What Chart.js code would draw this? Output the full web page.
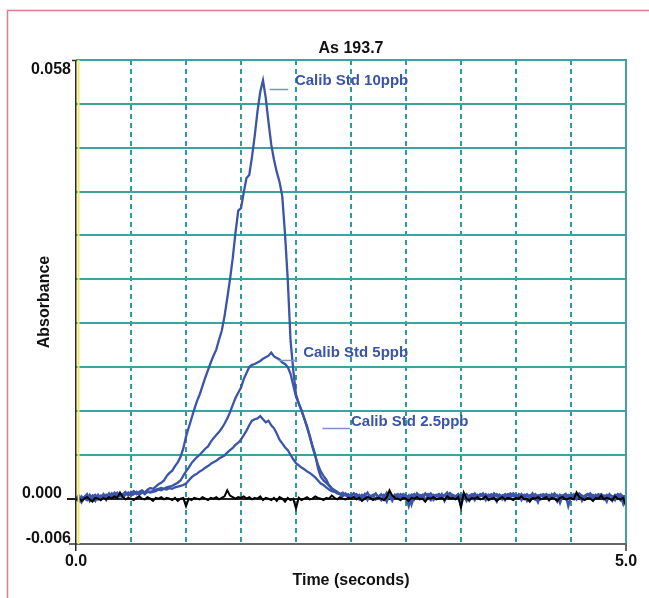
<!DOCTYPE html>
<html><head><meta charset="utf-8">
<script src="https://cdn.jsdelivr.net/npm/chart.js@4.4.0/dist/chart.umd.min.js"></script>
<style>html,body{margin:0;padding:0;background:#fff;}#wrap{position:relative;width:649px;height:598px;}canvas{display:block;}</style>
</head><body><div id="wrap"><canvas id="c" width="649" height="598"></canvas></div>
<script>
const chartTitle = 'As 193.7';
const xAxisTitle = 'Time (seconds)';
const yAxisTitle = 'Absorbance';
const seriesNames = ['Calib Std 10ppb', 'Calib Std 5ppb', 'Calib Std 2.5ppb', 'Blank'];

const times = [
0,0.025,0.05,0.075,0.1,0.125,0.15,0.175,0.2,0.225,
0.25,0.275,0.3,0.325,0.35,0.375,0.4,0.425,0.45,0.475,
0.5,0.525,0.55,0.575,0.6,0.625,0.65,0.675,0.7,0.725,
0.75,0.775,0.8,0.825,0.85,0.875,0.9,0.925,0.95,0.975,
1,1.025,1.05,1.075,1.1,1.125,1.15,1.175,1.2,1.225,
1.25,1.275,1.3,1.325,1.35,1.375,1.4,1.425,1.45,1.475,
1.5,1.525,1.55,1.575,1.6,1.625,1.65,1.675,1.7,1.725,
1.75,1.775,1.8,1.825,1.85,1.875,1.9,1.925,1.95,1.975,
2,2.025,2.05,2.075,2.1,2.125,2.15,2.175,2.2,2.225,
2.25,2.275,2.3,2.325,2.35,2.375,2.4,2.425,2.45,2.475,
2.5,2.525,2.55,2.575,2.6,2.625,2.65,2.675,2.7,2.725,
2.75,2.775,2.8,2.825,2.85,2.875,2.9,2.925,2.95,2.975,
3,3.025,3.05,3.075,3.1,3.125,3.15,3.175,3.2,3.225,
3.25,3.275,3.3,3.325,3.35,3.375,3.4,3.425,3.45,3.475,
3.5,3.525,3.55,3.575,3.6,3.625,3.65,3.675,3.7,3.725,
3.75,3.775,3.8,3.825,3.85,3.875,3.9,3.925,3.95,3.975,
4,4.025,4.05,4.075,4.1,4.125,4.15,4.175,4.2,4.225,
4.25,4.275,4.3,4.325,4.35,4.375,4.4,4.425,4.45,4.475,
4.5,4.525,4.55,4.575,4.6,4.625,4.65,4.675,4.7,4.725,
4.75,4.775,4.8,4.825,4.85,4.875,4.9,4.925,4.95,4.975,
5];

const std10 = [
-.0003,.0002,-.0005,.0001,.0003,-.0002,.0004,.0000,.0005,-.0001,
.0006,.0002,.0007,.0001,.0005,.0008,.0003,.0006,.0009,.0004,
.0007,.0010,.0006,.0009,.0011,.0008,.0012,.0014,.0013,.0016,
.0019,.0021,.0024,.0030,.0034,.0037,.0043,.0048,.0055,.0066,
.0082,.0094,.0106,.0118,.0129,.0138,.0149,.0160,.0170,.0180,
.0189,.0197,.0210,.0222,.0241,.0265,.0290,.0318,.0352,.0381,
.0384,.0405,.0424,.0428,.0452,.0480,.0512,.0538,.0553,.0530,
.0498,.0468,.0448,.0432,.0419,.0400,.0350,.0290,.0210,.0170,
.0138,.0126,.0116,.0106,.0094,.0082,.0068,.0056,.0045,.0036,
.0030,.0025,.0018,.0014,.0011,.0009,.0006,.0004,.0007,.0002,
.0005,.0001,.0006,.0003,-.0002,.0004,.0007,.0002,.0005,-.0001,
.0003,.0006,.0001,.0008,.0004,-.0003,.0005,.0002,.0006,.0003,
-.0001,.0004,-.0008,.0003,.0006,.0002,.0005,-.0002,.0004,.0007,
.0002,.0005,.0001,.0006,-.0003,.0004,.0007,.0003,.0001,.0005,
-.0009,.0003,.0006,.0002,.0004,-.0002,.0005,.0003,.0007,.0001,
.0004,.0006,.0002,-.0004,.0005,.0003,.0006,.0001,.0004,.0007,
.0003,.0005,-.0002,.0004,.0006,.0002,.0005,.0003,-.0005,.0004,
.0006,.0002,.0005,.0001,.0007,.0003,-.0006,.0004,.0002,.0005,
.0003,.0006,.0001,.0005,-.0003,.0004,.0006,.0002,.0005,.0003,
.0001,.0005,.0003,-.0004,.0006,.0002,.0004,.0005,-.0002,.0003,
.0001];

const std5 = [
.0002,-.0004,.0003,.0000,-.0002,.0005,.0001,-.0003,.0004,.0002,
.0000,.0005,.0003,.0007,.0002,.0004,.0006,.0001,.0005,.0008,
.0004,.0006,.0009,.0005,.0008,.0007,.0010,.0009,.0010,.0012,
.0013,.0014,.0013,.0015,.0016,.0017,.0019,.0021,.0024,.0030,
.0036,.0041,.0047,.0051,.0055,.0058,.0062,.0066,.0069,.0075,
.0080,.0084,.0088,.0093,.0099,.0106,.0114,.0124,.0133,.0140,
.0147,.0158,.0166,.0174,.0177,.0178,.0180,.0182,.0185,.0187,
.0189,.0193,.0188,.0186,.0184,.0180,.0178,.0174,.0165,.0150,
.0135,.0126,.0117,.0106,.0096,.0083,.0070,.0058,.0040,.0029,
.0024,.0021,.0017,.0013,.0011,.0008,.0006,.0008,.0004,.0006,
.0002,.0007,.0004,-.0001,.0005,.0003,.0008,.0001,.0004,.0006,
.0002,-.0002,.0005,.0003,.0007,.0001,.0004,.0006,-.0001,.0005,
.0003,-.0010,.0004,.0006,.0001,.0005,.0003,.0007,.0002,-.0002,
.0005,.0003,.0006,.0002,.0004,.0008,.0001,.0005,.0003,.0006,
.0002,.0005,-.0003,.0004,.0006,.0003,.0001,.0006,.0004,-.0002,
.0005,.0002,.0007,.0003,.0005,-.0001,.0004,.0006,.0002,.0005,
.0001,.0006,.0003,.0005,-.0003,.0004,.0002,.0006,.0003,.0005,
.0002,.0004,-.0002,.0006,.0003,.0005,.0001,.0004,.0006,-.0010,
.0004,.0002,.0005,.0007,.0003,.0001,.0006,.0004,-.0002,.0005,
.0003,.0006,.0002,.0005,.0001,-.0003,.0005,.0003,.0006,.0002,
.0004];

const std25 = [
.0001,.0004,-.0002,.0002,.0006,-.0003,.0003,.0005,-.0001,.0004,
.0003,-.0002,.0005,.0004,.0008,.0002,.0006,.0004,.0007,.0005,
.0009,.0006,.0008,.0007,.0010,.0006,.0009,.0008,.0009,.0010,
.0012,.0011,.0013,.0012,.0014,.0013,.0015,.0016,.0017,.0018,
.0020,.0024,.0028,.0031,.0033,.0036,.0038,.0041,.0043,.0046,
.0048,.0050,.0053,.0055,.0057,.0061,.0064,.0067,.0071,.0074,
.0078,.0084,.0090,.0097,.0103,.0105,.0106,.0109,.0105,.0101,
.0103,.0097,.0093,.0086,.0078,.0073,.0068,.0064,.0058,.0052,
.0047,.0044,.0041,.0039,.0036,.0034,.0031,.0028,.0024,.0020,
.0018,.0015,.0012,.0010,.0009,.0007,.0006,.0003,.0006,.0002,
.0004,.0007,.0002,.0005,.0001,.0006,-.0002,.0004,.0003,.0007,
.0001,.0005,.0003,-.0004,.0006,.0002,.0005,.0004,.0001,.0006,
.0004,.0002,.0005,-.0001,.0007,.0003,.0001,.0005,.0006,.0002,
-.0002,.0004,.0006,.0003,.0005,.0001,.0007,.0004,.0002,.0005,
.0003,.0006,.0001,-.0003,.0004,.0007,.0002,.0005,.0003,.0006,
.0002,.0005,.0003,.0006,.0001,.0004,-.0002,.0005,.0007,.0003,
.0005,.0002,.0006,.0001,.0004,.0003,.0007,-.0001,.0004,.0005,
.0002,.0006,.0003,.0005,.0001,-.0004,.0005,.0003,.0006,.0002,
.0005,.0003,-.0001,.0006,.0004,.0002,.0005,.0007,.0001,.0004,
.0006,.0002,.0004,.0001,.0005,.0003,-.0002,.0006,.0004,-.0007,
.0003];

const blank = [
-.0002,.0001,-.0003,.0000,.0002,-.0001,-.0004,.0001,.0000,-.0002,
.0001,-.0001,.0002,.0000,.0003,.0001,.0008,.0002,-.0001,.0001,
.0000,-.0002,.0001,.0003,.0000,-.0001,.0002,.0000,-.0003,.0001,
.0000,.0002,-.0001,.0001,.0000,-.0002,.0001,-.0003,.0000,.0001,
-.0010,.0000,-.0002,.0001,.0000,-.0001,.0002,.0000,-.0002,.0001,
.0000,.0002,-.0001,.0001,.0003,.0011,.0004,.0002,.0000,.0002,
.0001,.0003,.0000,.0002,-.0001,.0001,.0000,.0003,-.0002,.0001,
.0000,-.0002,.0001,-.0003,.0002,.0000,-.0004,.0001,-.0002,.0000,
-.0013,.0001,-.0002,.0000,.0002,-.0001,.0000,.0003,.0001,.0000,
-.0002,.0001,.0000,.0004,.0001,-.0001,.0002,.0000,-.0001,.0001,
.0000,.0002,-.0001,.0001,-.0003,.0000,.0002,.0001,-.0002,.0000,
.0001,.0000,-.0002,.0002,.0011,.0004,.0001,.0000,-.0002,.0001,
.0000,-.0003,.0001,.0000,.0002,-.0001,.0000,-.0004,.0001,.0000,
.0002,-.0001,.0000,.0001,-.0002,.0003,.0000,.0001,-.0001,.0002,
-.0012,.0008,.0000,-.0002,.0001,.0000,.0002,-.0001,.0000,.0003,
-.0002,.0000,.0001,-.0003,.0000,.0002,-.0001,.0001,.0000,-.0002,
.0001,.0000,.0003,-.0001,.0000,-.0004,.0001,.0000,.0002,-.0001,
.0000,.0002,-.0002,.0001,.0000,-.0003,.0001,.0002,-.0001,.0000,
.0001,-.0001,.0008,.0002,.0000,-.0002,.0001,.0000,-.0003,.0001,
.0000,.0004,-.0001,.0001,.0000,-.0002,.0003,.0000,-.0001,.0001,
-.0010];

const xGridTicks = [0, 0.5, 1, 1.5, 2, 2.5, 3, 3.5, 4, 4.5, 5];
const xLabelTicks = [0, 5];
const yGridTicks = [-0.006, 0, 0.0058, 0.0116, 0.0174, 0.0232, 0.029, 0.0348, 0.0406, 0.0464, 0.0522, 0.058];
const yLabelTicks = [-0.006, 0, 0.058];

// ---------- drawing ----------
const BLUE = '#3b55a9';
const TEAL = '#3ea2a2';
const FONT = '"Liberation Sans", Arial, sans-serif';
const labelAnchors = [
  {name: seriesNames[0], tx: 1.99, ty: 0.0552, l0: 1.76, l1: 1.93, lv: 0.0542},
  {name: seriesNames[1], tx: 2.065, ty: 0.0193, l0: 1.84, l1: 2.01, lv: 0.0183},
  {name: seriesNames[2], tx: 2.5, ty: 0.0102, l0: 2.24, l1: 2.49, lv: 0.0093}
];
const toXY = arr => arr.map((v, i) => ({x: times[i], y: v}));

const framePlugin = {
  id: 'frame',
  beforeDraw(chart) {
    const c = chart.ctx;
    c.save();
    c.fillStyle = '#fff';
    c.fillRect(0, 0, chart.width, chart.height);
    c.strokeStyle = '#e07a93';
    c.lineWidth = 1.5;
    c.beginPath();
    c.moveTo(7.5, chart.height); c.lineTo(7.5, 10.5); c.lineTo(chart.width, 10.5);
    c.stroke();
    c.restore();
  },
  afterDatasetsDraw(chart) {
    const c = chart.ctx, xs = chart.scales.x, ys = chart.scales.y;
    const ax = Math.round(xs.getPixelForValue(0));
    const rx = Math.round(xs.getPixelForValue(5));
    const top = Math.round(ys.getPixelForValue(0.058));
    const bot = Math.round(ys.getPixelForValue(-0.006));
    const y0 = Math.round(ys.getPixelForValue(0));
    c.save();
    // right edge (solid teal)
    c.strokeStyle = TEAL; c.lineWidth = 2;
    c.beginPath(); c.moveTo(rx, top - 1); c.lineTo(rx, bot); c.stroke();
    // bottom axis
    c.strokeStyle = '#666'; c.lineWidth = 2;
    c.beginPath(); c.moveTo(ax - 7, bot); c.lineTo(rx + 1, bot); c.stroke();
    c.beginPath(); c.moveTo(rx, bot); c.lineTo(rx, bot + 7); c.stroke();
    // yellow line
    c.strokeStyle = '#f2ea62'; c.lineWidth = 2;
    c.beginPath(); c.moveTo(ax + 2.5, top); c.lineTo(ax + 2.5, bot); c.stroke();
    // left axis
    c.strokeStyle = '#2a2a2a'; c.lineWidth = 1.5;
    c.beginPath(); c.moveTo(ax - 0.25, top); c.lineTo(ax - 0.25, bot + 7); c.stroke();
    c.beginPath(); c.moveTo(ax - 4, top + 0.5); c.lineTo(ax, top + 0.5); c.stroke();
    c.strokeStyle = '#222'; c.lineWidth = 2;
    c.beginPath(); c.moveTo(ax - 9, y0); c.lineTo(ax, y0); c.stroke();

    // y labels
    c.fillStyle = '#111';
    c.font = 'bold 16px ' + FONT;
    c.textAlign = 'right'; c.textBaseline = 'alphabetic';
    yLabelTicks.forEach(v => {
      const py = ys.getPixelForValue(v);
      const txt = v.toFixed(3);
      if (v === 0.058) c.fillText(txt, ax - 5, py + 14);
      else if (v === 0) c.fillText(txt, ax - 14, py - 1);
      else c.fillText(txt, ax - 5, py - 1);
    });
    // x labels
    c.textAlign = 'center';
    xLabelTicks.forEach(v => {
      c.fillText(v.toFixed(1), xs.getPixelForValue(v), bot + 22);
    });
    // titles
    c.fillText(chartTitle, (chart.chartArea.left + chart.chartArea.right) / 2, top - 7);
    c.fillText(xAxisTitle, (chart.chartArea.left + chart.chartArea.right) / 2, bot + 41);
    c.save();
    c.translate(49, (top + bot) / 2);
    c.rotate(-Math.PI / 2);
    c.fillText(yAxisTitle, 0, 0);
    c.restore();

    // series labels with leader lines
    labelAnchors.forEach(a => {
      c.strokeStyle = '#7f90c6'; c.lineWidth = 1.5;
      const ly = Math.round(ys.getPixelForValue(a.lv)) + 0.5;
      c.beginPath(); c.moveTo(xs.getPixelForValue(a.l0), ly); c.lineTo(xs.getPixelForValue(a.l1), ly); c.stroke();
      c.fillStyle = '#3a54a6';
      c.font = 'bold 15px ' + FONT;
      c.textAlign = 'left'; c.textBaseline = 'middle';
      c.fillText(a.name, xs.getPixelForValue(a.tx), ys.getPixelForValue(a.ty));
    });
    c.restore();
  }
};

new Chart(document.getElementById('c'), {
  type: 'line',
  data: {
    datasets: [
      {label: seriesNames[3], data: toXY(blank), borderColor: '#000', borderWidth: 2, order: 0},
      {label: seriesNames[0], data: toXY(std10), borderColor: BLUE, borderWidth: 2.3, order: 1},
      {label: seriesNames[1], data: toXY(std5), borderColor: BLUE, borderWidth: 2.3, order: 2},
      {label: seriesNames[2], data: toXY(std25), borderColor: BLUE, borderWidth: 2.3, order: 3}
    ]
  },
  options: {
    responsive: false, animation: false, devicePixelRatio: 1,
    elements: {point: {radius: 0}, line: {tension: 0}},
    layout: {padding: {top: 60, right: 23, left: 0, bottom: 0}},
    plugins: {legend: {display: false}, tooltip: {enabled: false}, title: {display: false}},
    scales: {
      x: {
        type: 'linear', min: 0, max: 5,
        afterBuildTicks: s => { s.ticks = xGridTicks.map(v => ({value: v})); },
        afterFit: s => { s.height = 54; },
        ticks: {display: false},
        grid: {
          color: c => (c.tick && c.tick.value > 0 && c.tick.value < 5) ? '#2f9a9a' : 'rgba(0,0,0,0)',
          lineWidth: 2, drawTicks: false
        },
        border: {display: false, dash: [5, 4]}
      },
      y: {
        type: 'linear', min: -0.006, max: 0.058,
        afterBuildTicks: s => { s.ticks = yGridTicks.map(v => ({value: v})); },
        afterFit: s => { s.width = 76; },
        ticks: {display: false},
        grid: {
          color: c => !c.tick ? 'rgba(0,0,0,0)' : (c.tick.value > 0 ? TEAL : (c.tick.value === 0 ? '#222' : 'rgba(0,0,0,0)')),
          lineWidth: 2, drawTicks: false
        },
        border: {display: false}
      }
    }
  },
  plugins: [framePlugin]
});
</script>
</body></html>
